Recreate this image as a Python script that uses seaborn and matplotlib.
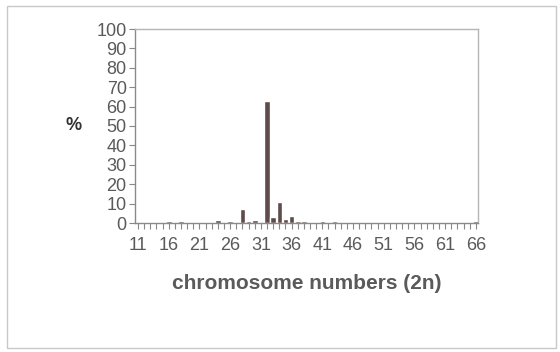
import matplotlib
matplotlib.use("Agg")
import matplotlib.pyplot as plt
import seaborn as sns
import pandas as pd
from matplotlib.patches import Rectangle
from matplotlib.ticker import MultipleLocator

# data
chromosomes = [16, 18, 23, 24, 26, 27, 28, 29, 30, 31, 32, 33, 34, 35, 36, 37, 38, 41, 43, 66]
percent = [1.0, 1.0, 0.7, 1.5, 1.2, 0.7, 7.3, 1.0, 1.5, 0.7, 63.0, 3.0, 11.0, 2.0, 3.8, 1.2, 1.0, 1.0, 0.8, 0.8]
x_tick_labels = [11, 16, 21, 26, 31, 36, 41, 46, 51, 56, 61, 66]
y_ticks = list(range(0, 101, 10))

df = pd.DataFrame({"n": chromosomes, "pct": percent})

sns.set_theme(style="white")
plt.rcParams["font.family"] = ["Liberation Sans", "DejaVu Sans"]

fig = plt.figure(figsize=(5.6, 3.52), dpi=100)
ax = fig.add_axes([135 / 560, 1 - 223 / 352, (478 - 135) / 560, (223 - 29) / 352])

sns.barplot(data=df, x="n", y="pct", native_scale=True, color="#5e4b4b",
            saturation=1, width=0.9, ax=ax)

gray = "#5a5a5a"
ax.set_xlim(10.5, 66.35)
ax.set_ylim(0, 100)
ax.set_xticks(x_tick_labels)
ax.set_xticklabels([str(v) for v in x_tick_labels])
ax.xaxis.set_minor_locator(MultipleLocator(1))
ax.set_yticks(y_ticks)
ax.set_yticklabels([str(v) for v in y_ticks])
ax.tick_params(axis="both", which="both", direction="out", colors="#888888",
               labelcolor=gray, labelsize=13, length=4, width=0.8, pad=2,
               bottom=True, left=True)
ax.tick_params(axis="x", which="both", pad=6)

for side, sp in ax.spines.items():
    sp.set_color("#b5b5b5")
    sp.set_linewidth(1.0)
ax.spines["left"].set_color("#8a8a8a")
ax.spines["bottom"].set_color("#8a8a8a")

ax.set_xlabel("chromosome numbers (2n)", fontsize=15, fontweight="bold", color=gray)
ax.xaxis.set_label_coords(0.5, -0.31)
ax.xaxis.label.set_va("center")
ax.set_ylabel("%", fontsize=13, fontweight="bold", color="#333333", rotation=0)
ax.yaxis.set_label_coords(-0.18, 0.505)
ax.yaxis.label.set_va("center")
ax.yaxis.label.set_ha("center")

fig.patches.append(Rectangle((7 / 560, 1 - 348 / 352), (556 - 7) / 560, (348 - 6) / 352,
                             transform=fig.transFigure, fill=False,
                             edgecolor="#c8c8c8", linewidth=1.0))

fig.savefig("out.png", dpi=100, facecolor="white")
